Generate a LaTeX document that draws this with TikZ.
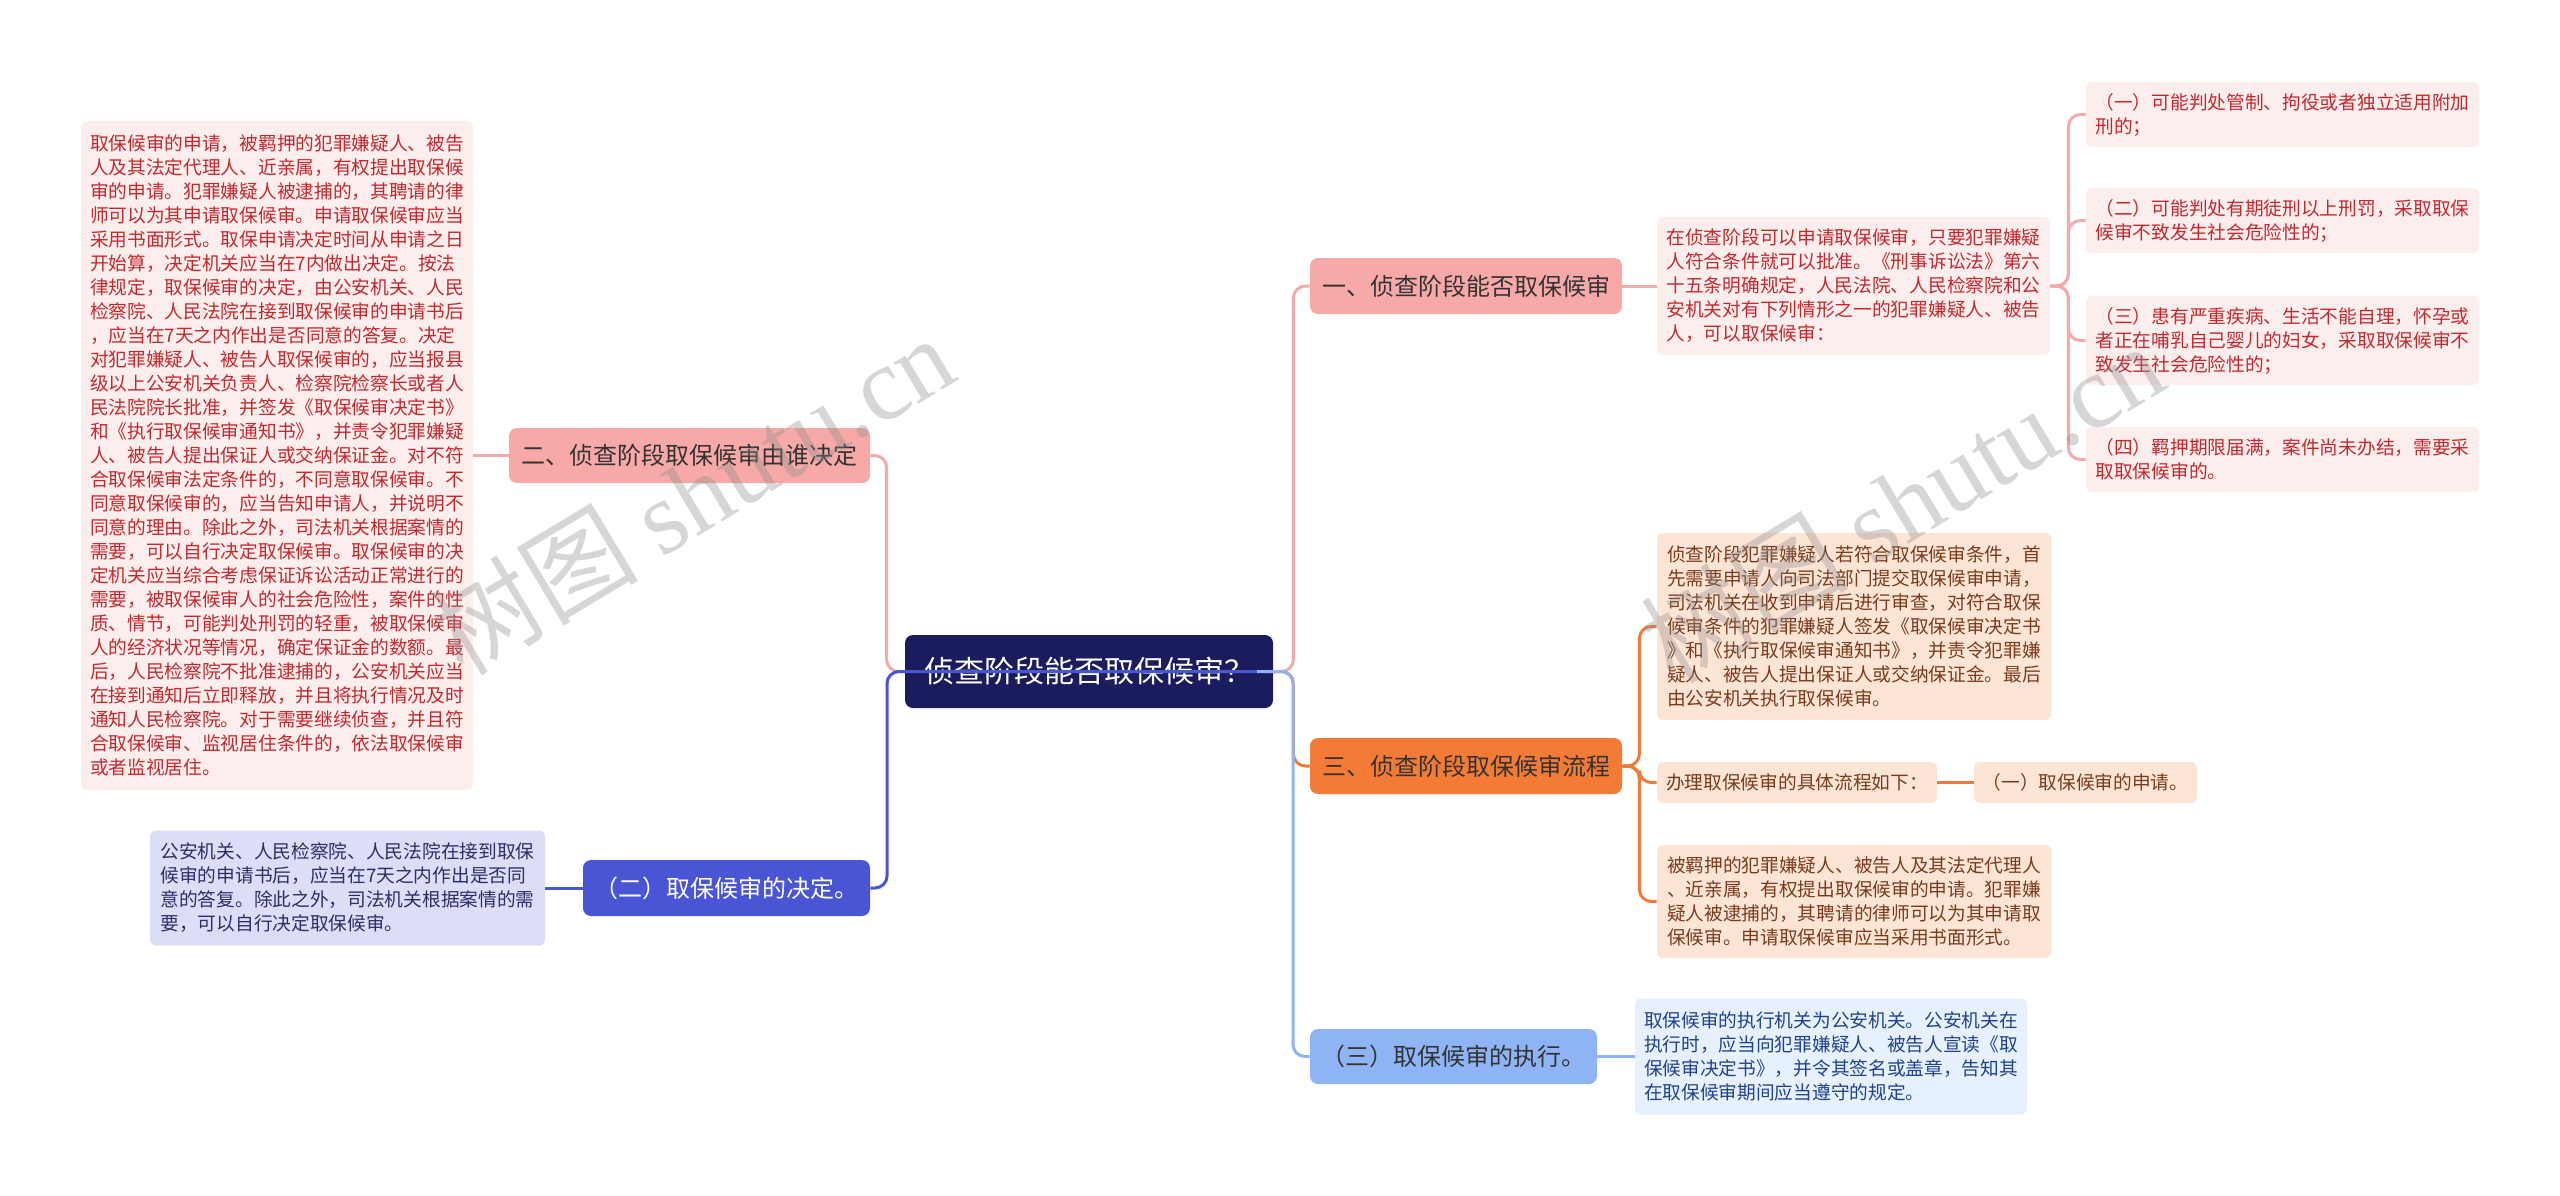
\documentclass[tikz,border=0pt]{standalone}
\usepackage{fontspec}
\setmainfont{Noto Sans CJK SC}
\newfontfamily\wmlatin{Liberation Serif}
\usetikzlibrary{calc}
\definecolor{rootc}{HTML}{1B1C5E}
\definecolor{pinkmain}{HTML}{F7A9A8}
\definecolor{pinkleaf}{HTML}{FDEEEE}
\definecolor{pinktext}{HTML}{C3282D}
\definecolor{pinkline}{HTML}{F3AAAA}
\definecolor{orangemain}{HTML}{F47B36}
\definecolor{orangeleaf}{HTML}{FDE5D6}
\definecolor{orangetext}{HTML}{7A3C1C}
\definecolor{orangeline}{HTML}{EE7B3A}
\definecolor{bluemain}{HTML}{4A55D6}
\definecolor{blueleaf}{HTML}{DCDDF7}
\definecolor{bluetext}{HTML}{2C2E66}
\definecolor{lbluemain}{HTML}{8EB4F6}
\definecolor{lblueleaf}{HTML}{E7F0FD}
\definecolor{lbluetext}{HTML}{1F4390}
\definecolor{maintext}{HTML}{333333}
\begin{document}
\begin{tikzpicture}[x=0.5pt,y=-0.5pt,
  box/.style={rectangle,inner sep=0pt,align=left},
  mainbox/.style={box,rounded corners=4pt,align=center,font=\fontsize{12pt}{14pt}\selectfont,text=maintext},
  leafbox/.style={box,rounded corners=3pt,font=\fontsize{9.35pt}{12pt}\selectfont},
  rootbox/.style={box,rounded corners=4pt,align=center,fill=rootc,text=white,font=\fontsize{15pt}{17pt}\selectfont},
  pinkm/.style={mainbox,fill=pinkmain},
  pinkl/.style={leafbox,fill=pinkleaf,text=pinktext},
  orangem/.style={mainbox,fill=orangemain},
  orangel/.style={leafbox,fill=orangeleaf,text=orangetext},
  bluem/.style={mainbox,fill=bluemain,text=white},
  bluel/.style={leafbox,fill=blueleaf,text=bluetext},
  lbluem/.style={mainbox,fill=lbluemain},
  lbluel/.style={leafbox,fill=lblueleaf,text=lbluetext},
  conn/.style={line width=1.5pt,rounded corners=6pt},
  pinkc/.style={conn,draw=pinkline},
  orangec/.style={conn,draw=orangeline},
  bluec/.style={conn,draw=bluemain},
  lbluec/.style={conn,draw=lbluemain},
  wm/.style={text=black!45,text opacity=0.35,font=\fontsize{52pt}{52pt}\selectfont}
]
\fill[white] (0,0) rectangle (2560,1195);
\useasboundingbox (0,0) rectangle (2560,1195);

% root
\node[rootbox,minimum width=184pt,minimum height=36.5pt] (root) at (1089,671.5) {侦查阶段能否取保候审？};

% left side
\node[pinkm,minimum width=180.5pt,minimum height=27.5pt] (L1a) at (689.5,455.5) {二、侦查阶段取保候审由谁决定};
\node[pinkl,minimum width=196pt,minimum height=334.5pt] (Lbig) at (277,455.5) {取保候审的申请，被羁押的犯罪嫌疑人、被告\\人及其法定代理人、近亲属，有权提出取保候\\审的申请。犯罪嫌疑人被逮捕的，其聘请的律\\师可以为其申请取保候审。申请取保候审应当\\采用书面形式。取保申请决定时间从申请之日\\开始算，决定机关应当在7内做出决定。按法\\律规定，取保候审的决定，由公安机关、人民\\检察院、人民法院在接到取保候审的申请书后\\，应当在7天之内作出是否同意的答复。决定\\对犯罪嫌疑人、被告人取保候审的，应当报县\\级以上公安机关负责人、检察院检察长或者人\\民法院院长批准，并签发《取保候审决定书》\\和《执行取保候审通知书》，并责令犯罪嫌疑\\人、被告人提出保证人或交纳保证金。对不符\\合取保候审法定条件的，不同意取保候审。不\\同意取保候审的，应当告知申请人，并说明不\\同意的理由。除此之外，司法机关根据案情的\\需要，可以自行决定取保候审。取保候审的决\\定机关应当综合考虑保证诉讼活动正常进行的\\需要，被取保候审人的社会危险性，案件的性\\质、情节，可能判处刑罚的轻重，被取保候审\\人的经济状况等情况，确定保证金的数额。最\\后，人民检察院不批准逮捕的，公安机关应当\\在接到通知后立即释放，并且将执行情况及时\\通知人民检察院。对于需要继续侦查，并且符\\合取保候审、监视居住条件的，依法取保候审\\或者监视居住。};
\node[bluem,minimum width=143.5pt,minimum height=28pt] (L2) at (726.5,888) {（二）取保候审的决定。};
\node[bluel,minimum width=197.5pt,minimum height=57.5pt] (L2leaf) at (347.5,888) {公安机关、人民检察院、人民法院在接到取保\\候审的申请书后，应当在7天之内作出是否同\\意的答复。除此之外，司法机关根据案情的需\\要，可以自行决定取保候审。};

% right side: branch 1
\node[pinkm,minimum width=156pt,minimum height=28pt] (R1) at (1466,286) {一、侦查阶段能否取保候审};
\node[pinkl,minimum width=196.5pt,minimum height=69pt] (R1leaf) at (1853.5,286) {在侦查阶段可以申请取保候审，只要犯罪嫌疑\\人符合条件就可以批准。《刑事诉讼法》第六\\十五条明确规定，人民法院、人民检察院和公\\安机关对有下列情形之一的犯罪嫌疑人、被告\\人，可以取保候审：};
\node[pinkl,minimum width=196.5pt,minimum height=32.5pt] (s1) at (2282.5,114.5) {（一）可能判处管制、拘役或者独立适用附加\\刑的；};
\node[pinkl,minimum width=196.5pt,minimum height=32.5pt] (s2) at (2282.5,220.5) {（二）可能判处有期徒刑以上刑罚，采取取保\\候审不致发生社会危险性的；};
\node[pinkl,minimum width=196.5pt,minimum height=44.5pt] (s3) at (2282.5,340.5) {（三）患有严重疾病、生活不能自理，怀孕或\\者正在哺乳自己婴儿的妇女，采取取保候审不\\致发生社会危险性的；};
\node[pinkl,minimum width=196.5pt,minimum height=32.5pt] (s4) at (2282.5,459.5) {（四）羁押期限届满，案件尚未办结，需要采\\取取保候审的。};

% branch 3
\node[orangem,minimum width=156pt,minimum height=28pt] (R3) at (1466,766) {三、侦查阶段取保候审流程};
\node[orangel,minimum width=197pt,minimum height=93.5pt] (t1) at (1854,626.5) {侦查阶段犯罪嫌疑人若符合取保候审条件，首\\先需要申请人向司法部门提交取保候审申请，\\司法机关在收到申请后进行审查，对符合取保\\候审条件的犯罪嫌疑人签发《取保候审决定书\\》和《执行取保候审通知书》，并责令犯罪嫌\\疑人、被告人提出保证人或交纳保证金。最后\\由公安机关执行取保候审。};
\node[orangel,minimum width=140pt,minimum height=20.5pt] (t2) at (1797,782.5) {办理取保候审的具体流程如下：};
\node[orangel,minimum width=111.5pt,minimum height=20.5pt] (t3) at (2085.5,782.5) {（一）取保候审的申请。};
\node[orangel,minimum width=197pt,minimum height=56.5pt] (t4) at (1854,901.5) {被羁押的犯罪嫌疑人、被告人及其法定代理人\\、近亲属，有权提出取保候审的申请。犯罪嫌\\疑人被逮捕的，其聘请的律师可以为其申请取\\保候审。申请取保候审应当采用书面形式。};

% branch (三)
\node[lbluem,minimum width=143.5pt,minimum height=27.5pt] (R4) at (1453.5,1056.5) {（三）取保候审的执行。};
\node[lbluel,minimum width=196pt,minimum height=58pt] (R4leaf) at (1831,1056.5) {取保候审的执行机关为公安机关。公安机关在\\执行时，应当向犯罪嫌疑人、被告人宣读《取\\保候审决定书》，并令其签名或盖章，告知其\\在取保候审期间应当遵守的规定。};

% connectors
\coordinate (rs) at (1257,671.5);
\draw[pinkc] (root.west) -- ++(-18,0) |- (L1a.east);
\draw[pinkc] (L1a.west) -- (Lbig.east);
\draw[pinkc] (root.east) -- ++(20,0) |- (R1.west);
\draw[pinkc] (R1.east) -- (R1leaf.west);
\draw[pinkc] (R1leaf.east) -- ++(18,0) |- (s1.west);
\draw[pinkc] (R1leaf.east) -- ++(18,0) |- (s2.west);
\draw[pinkc] (R1leaf.east) -- ++(18,0) |- (s3.west);
\draw[pinkc] (R1leaf.east) -- ++(18,0) |- (s4.west);
\draw[orangec] (root.east) -- ++(20,0) |- (R3.west);
\draw[orangec] (R3.east) -- ++(17,0) |- (t1.west);
\draw[orangec] (R3.east) -- ++(17,0) |- (t2.west);
\draw[orangec] (R3.east) -- ++(17,0) |- (t4.west);
\draw[orangec] (t2.east) -- (t3.west);
\draw[bluec] (rs) -- ++(-370,0) |- (L2.east);
\draw[bluec] (L2.west) -- (L2leaf.east);
\draw[lbluec] (rs) -- ++(36,0) |- (R4.west);
\draw[lbluec] (R4.east) -- (R4leaf.west);

% watermark
\node[wm,rotate=31] (wm1) at (692,494) {树图 {\wmlatin shutu.cn}};
\node[wm,rotate=31] (wm2) at (1902,502) {树图 {\wmlatin shutu.cn}};
\end{tikzpicture}
\end{document}
